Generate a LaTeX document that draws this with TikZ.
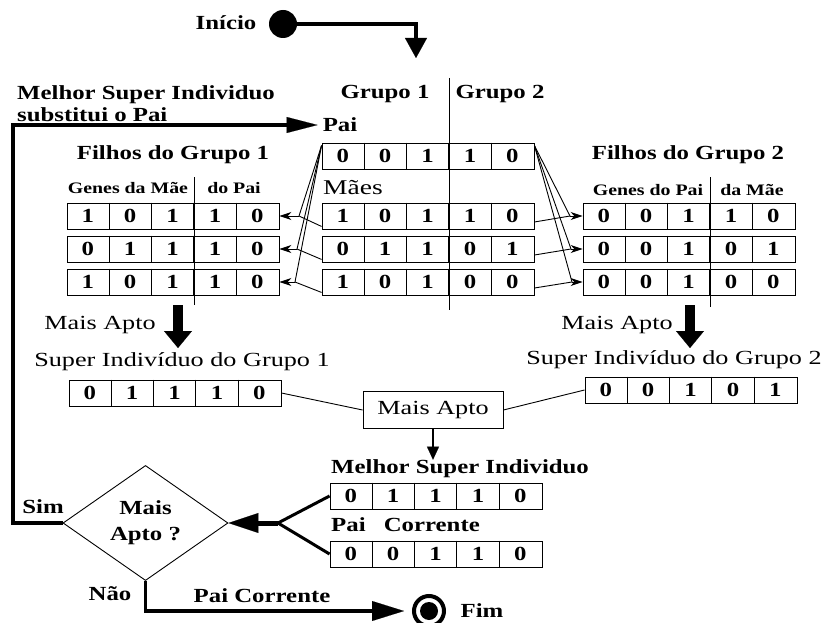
\documentclass[tikz,border=0pt]{standalone}
\usepackage{fontspec}
\setmainfont{Liberation Serif}[FakeStretch=1.24]
\newfontfamily\lightserif{Liberation Serif}[FakeStretch=1.31]
\usetikzlibrary{arrows.meta,shapes.geometric,calc}

\tikzset{
  wire/.style={line width=0.9pt},
  flow/.style={line width=3.5pt},
  rowbox/.style={draw, line width=0.9pt, minimum width=212pt, minimum height=26pt, inner sep=0pt},
  digit/.style={font=\bfseries\fontsize{20}{20}\selectfont, inner sep=0pt},
  lbl/.style={font=\bfseries\fontsize{20}{22}\selectfont, inner sep=0pt},
  rlbl/.style={font=\lightserif\fontsize{20}{22}\selectfont, inner sep=0pt},
  genelbl/.style={font=\bfseries\fontsize{16}{18}\selectfont, inner sep=0pt},
  kidarrow/.style={wire, -{Stealth[length=12pt,width=8pt]}},
  fitarrow/.style={line width=10pt, -{Triangle[length=17pt,width=28pt,line width=0.1pt]}},
}

% one chromosome: a row of five gene cells
\newcommand{\chromo}[4]{%
  \node[rowbox] (#1) at (#2,#3) {};
  \foreach \g [count=\k] in {#4} {
    \node[digit] at ($(#1.west)+(\k*42.4-21.2,0)$) {\g};
  }
  \foreach \k in {1,2,3,4} {
    \draw[wire] ($(#1.north west)+(\k*42.4,0)$) -- ($(#1.south west)+(\k*42.4,0)$);
  }
}

\begin{document}
\begin{tikzpicture}[x=1pt,y=-1pt]
\fill[white] (0,0) rectangle (822,623);
\useasboundingbox (0,0) rectangle (822,623);

% start
\node[lbl] (inicio) at (226,23) {Início};
\node[circle, fill=black, minimum size=28pt, inner sep=0pt] (start) at (283,24) {};
\coordinate (entry) at (416,58);
\draw[flow, -{Triangle[length=20pt,width=22pt,line width=0.1pt]}] (start.east) -| (entry);

% groups
\node[lbl] (g1) at (385,94) {Grupo 1};
\node[lbl] (g2) at (500,94) {Grupo 2};
\coordinate (splitTop) at (449.2,78);
\coordinate (splitBot) at (449.2,310);
\draw[wire] (splitTop) -- (splitBot);

% father and mothers
\node[lbl, anchor=west] (melhor) at (17,95) {Melhor Super Individuo};
\node[lbl, anchor=west] (subst) at (17,115) {substitui o Pai};
\node[lbl] (pailbl) at (340,125) {Pai};
\chromo{pai}{428}{156}{0,0,1,1,0}
\node[font=\lightserif\fontsize{21}{23}\selectfont, inner sep=0pt, anchor=west] (maes) at (323,188) {Mães};
\chromo{m1}{428}{216}{1,0,1,1,0}
\chromo{m2}{428}{249}{0,1,1,0,1}
\chromo{m3}{428}{282}{1,0,1,0,0}

% children of group 1
\node[lbl] (fg1) at (173,155) {Filhos do Grupo 1};
\node[genelbl] (gm1) at (128,188) {Genes da Mãe};
\node[genelbl] (gp1) at (234,188) {do Pai};
\coordinate (dl1) at (194.2,177);
\coordinate (dl2) at (194.2,305);
\draw[wire] (dl1) -- (dl2);
\chromo{a1}{173}{216}{1,0,1,1,0}
\chromo{a2}{173}{249}{0,1,1,1,0}
\chromo{a3}{173}{282}{1,0,1,1,0}

% children of group 2
\node[lbl] (fg2) at (688,155) {Filhos do Grupo 2};
\node[genelbl] (gp2) at (648,190) {Genes do Pai};
\node[genelbl] (gm2) at (752,190) {da Mãe};
\coordinate (dr1) at (710.2,177);
\coordinate (dr2) at (710.2,307);
\draw[wire] (dr1) -- (dr2);
\chromo{b1}{689}{216}{0,0,1,1,0}
\chromo{b2}{689}{249}{0,0,1,0,1}
\chromo{b3}{689}{282}{0,0,1,0,0}

% crossover wiring, group 1
\coordinate (jl1) at (299,216);
\coordinate (jl2) at (297,249);
\coordinate (jl3) at (295,282);
\foreach \r in {1,2,3} {
  \draw[wire] ($(pai.north west)+(0,3)$) -- (jl\r);
  \draw[wire] ($(m\r.south west)+(0,-3)$) -- (jl\r);
  \draw[kidarrow] (jl\r) -- (a\r.east);
}
% crossover wiring, group 2
\coordinate (jr1) at (570,216);
\coordinate (jr2) at (571,249);
\coordinate (jr3) at (572,282);
\foreach \r in {1,2,3} {
  \draw[wire] ($(pai.north east)+(0,3)$) -- (jr\r);
  \draw[wire] ($(m\r.east)+(0,6)$) -- (jr\r);
  \draw[kidarrow] (jr\r) -- (b\r.west);
}

% fittest of each group
\node[rlbl] (ma1) at (100,325) {Mais Apto};
\coordinate (fitL1) at (178,305);
\coordinate (fitL2) at (178,348);
\draw[fitarrow] (fitL1) -- (fitL2);
\node[rlbl] (sg1lbl) at (182,362) {Super Indivíduo do Grupo 1};
\chromo{sg1}{175}{393}{0,1,1,1,0}

\node[rlbl] (ma2) at (617,325) {Mais Apto};
\coordinate (fitR1) at (690,305);
\coordinate (fitR2) at (690,348);
\draw[fitarrow] (fitR1) -- (fitR2);
\node[rlbl] (sg2lbl) at (674,360) {Super Indivíduo do Grupo 2};
\chromo{sg2}{691}{390}{0,0,1,0,1}

% comparison of the two super individuals
\node[draw, line width=0.9pt, minimum width=140pt, minimum height=37pt, inner sep=0pt,
      font=\lightserif\fontsize{20}{22}\selectfont] (mais) at (433,410) {Mais Apto};
\draw[wire] (sg1.east) -- (mais.west);
\draw[wire] (mais.east) -- (sg2.west);

\node[lbl, anchor=west] (bestlbl) at (331,469) {Melhor Super Individuo};
\draw[line width=2pt, -{Triangle[length=13pt,width=12pt,line width=0.1pt]}] (mais.south) -- (mais.south |- bestlbl.north);
\chromo{bestind}{436}{496}{0,1,1,1,0}
\node[lbl, anchor=west] (pclbl) at (331,525) {Pai\hspace{12pt} Corrente};
\chromo{pcur}{436}{554}{0,0,1,1,0}

% decision
\node[diamond, draw, line width=0.9pt, minimum width=165pt, minimum height=110pt, inner sep=0pt,
      align=center, font=\bfseries\fontsize{20}{26}\selectfont] (dia) at (145.5,523) {Mais\\Apto ?};
\coordinate (fork) at (278,523);
\draw[line width=3pt] (bestind.west) -- (fork) -- (pcur.west);
\draw[line width=5pt, -{Triangle[length=30pt,width=20pt,line width=0.1pt]}] (fork) -- (dia.east);

\node[lbl] (sim) at (43,507) {Sim};
\node[lbl] (nao) at (110,594) {Não};

% yes: replace the father
\coordinate (loopcorner) at (13,523);
\draw[flow, -{Triangle[length=31pt,width=16pt,line width=0.1pt]}, shorten >=5pt]
  (dia.west) -- (loopcorner) |- (pailbl.west);

% no: end
\node[circle, draw, line width=4pt, minimum size=30pt, inner sep=0pt] (fim) at (429,611) {};
\node[circle, fill=black, minimum size=18pt, inner sep=0pt] (fimdot) at (fim.center) {};
\node[lbl] (fimlbl) at (482,611) {Fim};
\node[lbl] (pclbl2) at (262,596) {Pai Corrente};
\draw[flow, -{Triangle[length=32pt,width=20pt,line width=0.1pt]}, shorten >=8pt]
  (dia.south) |- (fim.west);
\end{tikzpicture}
\end{document}
